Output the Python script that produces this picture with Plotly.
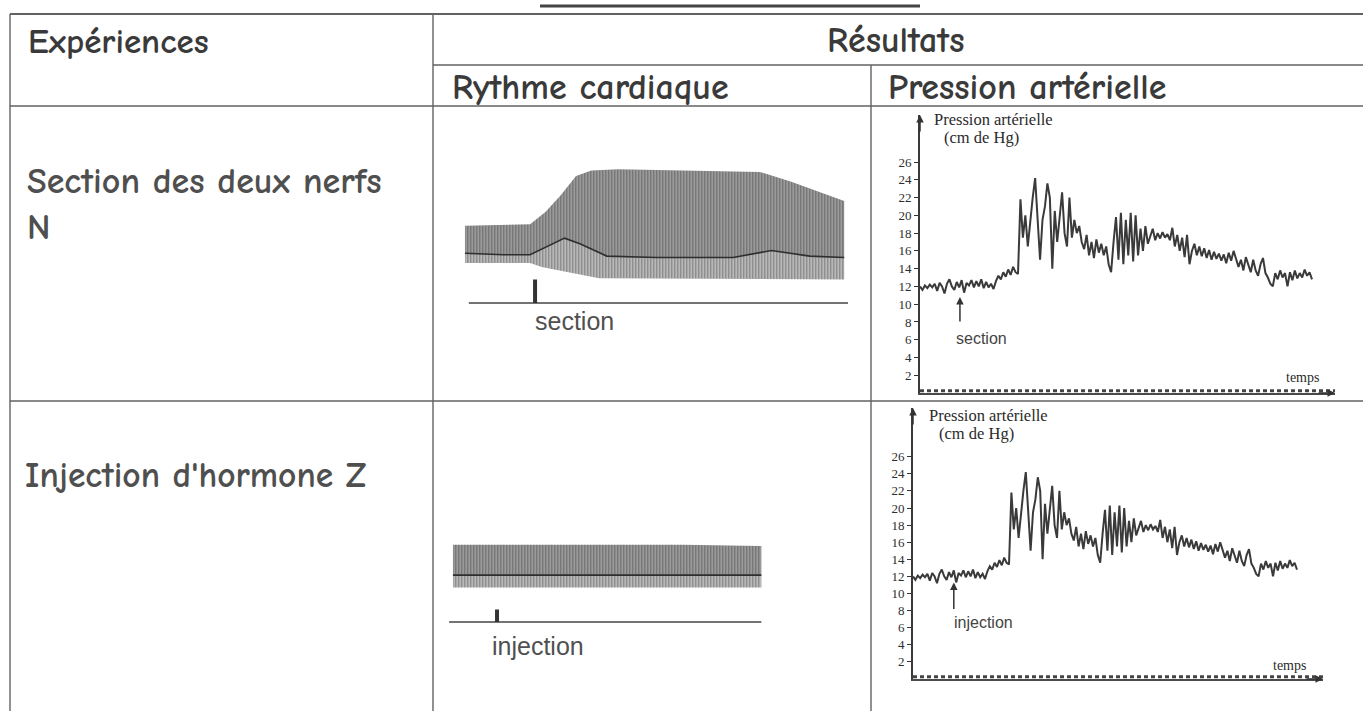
import plotly.graph_objects as go

W, H = 1363, 711

# ------------------------------------------------------------------ data
# Pressure recording (cm de Hg), one sample per step along the time axis
pressure_section = [
    12.0, 11.6, 12.1, 11.8, 12.2, 11.9, 12.3, 11.5, 12.4, 12.0, 11.2, 12.3, 12.8, 12.0, 11.6, 12.5,
    11.9, 12.7, 11.3, 12.4, 12.1, 12.7, 11.9, 12.6, 12.0, 12.8, 11.8, 12.5, 11.9, 12.3, 11.7,
    12.6, 13.2, 12.8, 13.6, 13.1, 13.9, 13.3, 14.2, 13.6, 13.4,
    21.8, 17.5, 20.0, 16.5, 19.5, 22.0, 24.2, 19.0, 15.0, 19.5, 21.0, 23.6, 22.0, 14.0, 20.5, 17.0,
    19.5, 22.6, 18.0, 16.5, 22.0, 17.5, 19.5, 18.0, 18.8, 17.0, 16.2, 17.8, 15.5, 17.0, 15.2, 17.3,
    15.8, 16.8, 15.5, 16.5, 14.5, 13.6, 17.0, 19.8, 15.0, 20.3, 14.5, 19.5, 15.5, 20.3, 14.8, 20.0,
    15.5, 18.5, 16.0, 18.8, 16.8, 17.8, 18.5, 17.2, 18.0, 17.4, 18.1, 17.5, 17.9, 17.2, 18.6, 16.5,
    17.8, 16.0, 17.5, 15.3, 17.8, 14.5, 16.0, 16.8, 15.5, 16.5, 15.4, 16.3, 15.2, 16.1, 15.0, 15.9,
    15.1, 15.7, 14.9, 15.6, 14.6, 15.8, 14.9, 16.0, 15.0, 14.2, 15.0, 13.8, 15.3, 14.5, 13.6, 15.0,
    13.8, 13.2, 14.5, 15.2, 13.5, 13.0, 12.3, 12.0, 13.5, 12.8, 13.8, 13.0, 13.5, 12.0, 13.6, 12.7,
    13.8, 12.9, 13.5, 13.0, 13.9, 13.2, 13.6, 12.8,
]
# the second recording in the picture is the same trace
pressure_injection = list(pressure_section)
pressure_ticks = [2, 4, 6, 8, 10, 12, 14, 16, 18, 20, 22, 24, 26]

# Heart rhythm recordings: envelope of the trace (time in % of strip, amplitude in arbitrary units)
rs_top_t = [0, 17, 21, 25, 29, 33, 40, 61, 77, 85, 91, 99]
rs_top_v = [5.6, 5.7, 6.6, 7.8, 9.2, 9.6, 9.7, 9.6, 9.5, 8.8, 8.2, 7.4]
rs_mid_t = [0, 10, 17, 22, 26, 30, 37, 50, 70, 80, 90, 99]
rs_mid_v = [3.6, 3.5, 3.5, 4.2, 4.7, 4.3, 3.4, 3.3, 3.3, 3.8, 3.4, 3.3]
rs_bot_t = [0, 17, 20, 35, 99]
rs_bot_v = [2.9, 2.9, 2.6, 1.8, 1.7]
rs_base_t = [1, 100]
rs_event_t = 18.3
rs_event_h = 1.7

ri_top_t = [0, 20, 40, 60, 80.5]
ri_top_v = [5.6, 5.6, 5.55, 5.6, 5.5]
ri_mid_t = [0, 20, 40, 60, 80.5]
ri_mid_v = [3.4, 3.4, 3.4, 3.4, 3.4]
ri_bot_t = [0, 20, 40, 60, 80.5]
ri_bot_v = [2.5, 2.5, 2.55, 2.5, 2.5]
ri_base_t = [-1, 80.5]
ri_event_t = 11.5
ri_event_h = 0.9

# ------------------------------------------------------------------ helpers
def PX(x):
    return x / W


def PY(y):
    return 1 - y / H


INK = "#3a3a3a"
TXT = "#4f4f4f"
HEAD = "#3a3a3a"
LINE = "#626262"
HAND = "Comic Sans MS, Comic Neue, DejaVu Sans, sans-serif"
SERIF = "Liberation Serif, DejaVu Serif, serif"
SANS = "Liberation Sans, Arial, sans-serif"

fig = go.Figure()

# pressure traces
n1 = len(pressure_section)
fig.add_trace(go.Scatter(x=list(range(n1)), y=pressure_section, xaxis="x", yaxis="y",
                         mode="lines", line=dict(color=INK, width=2), hoverinfo="skip"))
n2 = len(pressure_injection)
fig.add_trace(go.Scatter(x=list(range(n2)), y=pressure_injection, xaxis="x2", yaxis="y2",
                         mode="lines", line=dict(color=INK, width=2), hoverinfo="skip"))


def rhythm(xa, ya, top_t, top_v, mid_t, mid_v, bot_t, bot_v, base_t, ev_t, ev_h):
    # dark upper band
    fig.add_trace(go.Scatter(
        x=top_t + mid_t[::-1], y=top_v + mid_v[::-1], xaxis=xa, yaxis=ya,
        mode="lines", line=dict(width=0), fill="toself", fillcolor="rgba(0,0,0,0)",
        fillpattern=dict(shape="|", fgcolor="#2a2a2a", bgcolor="#a9a9a9", size=3, solidity=0.5),
        hoverinfo="skip"))
    # lower band
    fig.add_trace(go.Scatter(
        x=mid_t + bot_t[::-1], y=mid_v + bot_v[::-1], xaxis=xa, yaxis=ya,
        mode="lines", line=dict(width=0), fill="toself", fillcolor="rgba(0,0,0,0)",
        fillpattern=dict(shape="|", fgcolor="#383838", bgcolor="#c4c4c4", size=3, solidity=0.45),
        hoverinfo="skip"))
    # mid trace
    fig.add_trace(go.Scatter(x=mid_t, y=mid_v, xaxis=xa, yaxis=ya, mode="lines",
                             line=dict(color="#2e2e2e", width=1.6), hoverinfo="skip"))
    # baseline
    fig.add_trace(go.Scatter(x=base_t, y=[0, 0], xaxis=xa, yaxis=ya, mode="lines",
                             line=dict(color="#444", width=1.6), hoverinfo="skip"))
    # event mark
    fig.add_trace(go.Scatter(x=[ev_t, ev_t], y=[0, ev_h], xaxis=xa, yaxis=ya, mode="lines",
                             line=dict(color="#333", width=4), hoverinfo="skip"))


rhythm("x3", "y3", rs_top_t, rs_top_v, rs_mid_t, rs_mid_v, rs_bot_t, rs_bot_v, rs_base_t, rs_event_t, rs_event_h)
rhythm("x4", "y4", ri_top_t, ri_top_v, ri_mid_t, ri_mid_v, ri_bot_t, ri_bot_v, ri_base_t, ri_event_t, ri_event_h)

# ------------------------------------------------------------------ axes
x1_max = (n1 - 1) * 415 / 392
y1_max = 31.3
x2_max = (n2 - 1) * 410 / 384
y2_max = 31.7

common_y = dict(tickvals=pressure_ticks, ticks="outside", ticklen=4, tickwidth=1.2, tickcolor="#333",
                tickfont=dict(family=SERIF, size=13, color="#2e2e2e"), showline=True, linecolor="#3a3a3a",
                linewidth=1.6, showgrid=False, zeroline=False, fixedrange=True)
common_x = dict(showline=True, linecolor="#4a4a4a", linewidth=1.5, showgrid=False, zeroline=False,
                showticklabels=False, ticks="", fixedrange=True)

fig.update_layout(
    width=W, height=H, margin=dict(l=0, r=0, t=0, b=0),
    paper_bgcolor="white", plot_bgcolor="rgba(0,0,0,0)", showlegend=False,
    xaxis=dict(domain=[PX(920), PX(1335)], range=[0, x1_max], anchor="y", **common_x),
    yaxis=dict(domain=[PY(393), PY(115)], range=[0, y1_max], anchor="x", **common_y),
    xaxis2=dict(domain=[PX(913), PX(1323)], range=[0, x2_max], anchor="y2", **common_x),
    yaxis2=dict(domain=[PY(679), PY(408)], range=[0, y2_max], anchor="x2", **common_y),
    xaxis3=dict(domain=[PX(457.3), PX(855.7)], range=[-2, 102], visible=False, fixedrange=True, anchor="y3"),
    yaxis3=dict(domain=[PY(316.8), PY(158.1)], range=[-1, 10.5], visible=False, fixedrange=True, anchor="x3"),
    xaxis4=dict(domain=[PX(445.3), PX(843.7)], range=[-2, 102], visible=False, fixedrange=True, anchor="y4"),
    yaxis4=dict(domain=[PY(635.8), PY(477.1)], range=[-1, 10.5], visible=False, fixedrange=True, anchor="x4"),
)

# ------------------------------------------------------------------ table lines
shapes = []


def hline(x0, x1, y, w=1.6, color=LINE):
    shapes.append(dict(type="line", xref="paper", yref="paper", x0=PX(x0), x1=PX(x1),
                       y0=PY(y), y1=PY(y), line=dict(color=color, width=w)))


def vline(x, y0, y1, w=1.4, color=LINE):
    shapes.append(dict(type="line", xref="paper", yref="paper", x0=PX(x), x1=PX(x),
                       y0=PY(y0), y1=PY(y1), line=dict(color=color, width=w)))


hline(10, 1363, 14, 2)
hline(433, 1363, 65)
hline(10, 1363, 106)
hline(10, 1363, 401)
hline(540, 920, 6, 3, "#444")
vline(10, 14, 711)
vline(433, 14, 711)
vline(871, 65, 711)

# dashed x-axis overlay for the pressure graphs
shapes.append(dict(type="line", xref="x", yref="y", x0=0, x1=x1_max, y0=0.25, y1=0.25,
                   line=dict(color="#444", width=3, dash="4px,3px")))
shapes.append(dict(type="line", xref="x2", yref="y2", x0=0, x1=x2_max, y0=0.25, y1=0.25,
                   line=dict(color="#444", width=3, dash="4px,3px")))
fig.update_layout(shapes=shapes)

# ------------------------------------------------------------------ texts
ann = []


def text(s, x, y, size, family=HAND, color=TXT, xanchor="left", weight="normal"):
    ann.append(dict(text=s, x=PX(x), y=PY(y), xref="paper", yref="paper", showarrow=False,
                    xanchor=xanchor, yanchor="middle",
                    font=dict(family=family, size=size, color=color, weight=weight)))


text("Expériences", 26, 41, 35, color=HEAD, weight="bold")
text("Résultats", 895, 40, 36, color=HEAD, xanchor="center", weight="bold")
text("Rythme cardiaque", 450, 87, 36, color=HEAD, weight="bold")
text("Pression artérielle", 886, 87, 36, color=HEAD, weight="bold")
text("Section des deux nerfs", 25, 181, 36, weight="bold")
text("N", 25, 227, 36, weight="bold")
text("Injection d'hormone Z", 23, 475, 35.5, weight="bold")

text("section", 533, 321, 25, SANS, "#505050")
text("injection", 490, 646, 25, SANS, "#505050")

# pressure graph labels
text("Pression artérielle", 932, 120, 16.5, SERIF, "#2a2a2a")
text("(cm de Hg)", 942, 138, 16.5, SERIF, "#2a2a2a")
text("temps", 1284, 378, 14, SERIF, "#2a2a2a")
text("section", 954, 338, 16, SANS, "#444")

text("Pression artérielle", 927, 415, 16.5, SERIF, "#2a2a2a")
text("(cm de Hg)", 937, 433, 16.5, SERIF, "#2a2a2a")
text("temps", 1271, 665, 14, SERIF, "#2a2a2a")
text("injection", 952, 622, 16, SANS, "#444")

# arrows
arrow = dict(showarrow=True, arrowhead=2, arrowsize=1, arrowwidth=1.5, arrowcolor="#333", text="")
ann.append(dict(x=0, y=y1_max, xref="x", yref="y", ax=0, ay=18, **arrow))
ann.append(dict(x=x1_max, y=0, xref="x", yref="y", ax=-18, ay=0, **arrow))
ann.append(dict(x=0, y=y2_max, xref="x2", yref="y2", ax=0, ay=18, **arrow))
ann.append(dict(x=x2_max, y=0, xref="x2", yref="y2", ax=-18, ay=0, **arrow))
ann.append(dict(x=16.3, y=10.8, xref="x", yref="y", ax=0, ay=26, **arrow))
ann.append(dict(x=17, y=11.3, xref="x2", yref="y2", ax=0, ay=28, **arrow))

fig.update_layout(annotations=ann)

fig.write_html("out.html", config={"displayModeBar": False},
               post_script="document.body.style.margin='0';document.body.style.overflow='hidden';")
